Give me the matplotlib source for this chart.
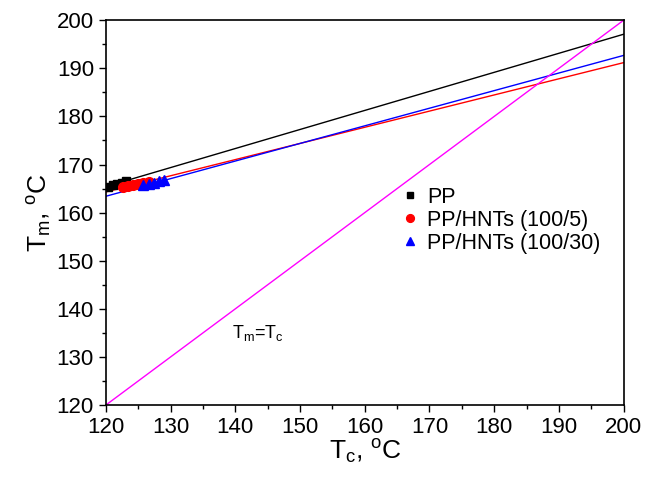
import numpy as np
import matplotlib.pyplot as plt
from matplotlib.ticker import MultipleLocator

plt.rcParams['font.family'] = ['Liberation Sans', 'DejaVu Sans']
plt.rcParams['mathtext.fontset'] = 'custom'
plt.rcParams['mathtext.rm'] = 'Liberation Sans'
plt.rcParams['mathtext.it'] = 'Liberation Sans:italic'

# measured points (Tc, Tm)
pp_tc = [120.4, 121.1, 121.8, 122.5, 123.2]
pp_tm = [165.4, 165.7, 165.9, 166.2, 166.6]
hnt5_tc = [122.6, 123.4, 124.2, 125.0, 125.8, 126.6]
hnt5_tm = [165.3, 165.5, 165.7, 166.0, 166.2, 166.4]
hnt30_tc = [125.8, 126.6, 127.4, 128.2, 129.0]
hnt30_tm = [165.7, 165.9, 166.2, 166.5, 166.8]

# Hoffman-Weeks fits: Tm = slope * Tc + intercept
pp_fit = (0.396, 165.4 - 0.396 * 120)
hnt5_fit = (0.336, 164.3 - 0.336 * 120)
hnt30_fit = (0.366, 163.4 - 0.366 * 120)

tc_line = np.array([120, 200])

fig = plt.figure(figsize=(6.45, 4.8), dpi=100)
ax = fig.add_axes([0.164, 0.156, 0.803, 0.802])

ax.plot(tc_line, pp_fit[0] * tc_line + pp_fit[1], color='black', lw=1)
ax.plot(tc_line, hnt5_fit[0] * tc_line + hnt5_fit[1], color='red', lw=1)
ax.plot(tc_line, hnt30_fit[0] * tc_line + hnt30_fit[1], color='blue', lw=1)
ax.plot(tc_line, tc_line, color='#ff00ff', lw=1)

ax.plot(pp_tc, pp_tm, 's', color='black', ms=6, label='PP')
ax.plot(hnt5_tc, hnt5_tm, 'o', color='red', ms=7, label='PP/HNTs (100/5)')
ax.plot(hnt30_tc, hnt30_tm, '^', color='blue', ms=7, label='PP/HNTs (100/30)')

ax.text(139.5, 134, r'T$_\mathrm{m}$=T$_\mathrm{c}$', fontsize=13)

ax.set_xlim(120, 200)
ax.set_ylim(120, 200)
ax.xaxis.set_major_locator(MultipleLocator(10))
ax.xaxis.set_minor_locator(MultipleLocator(5))
ax.yaxis.set_major_locator(MultipleLocator(10))
ax.yaxis.set_minor_locator(MultipleLocator(5))
ax.tick_params(which='major', direction='out', length=5, width=1, labelsize=16)
ax.tick_params(which='minor', direction='out', length=3, width=1)
for s in ax.spines.values():
    s.set_linewidth(1.2)

ax.set_xlabel(r'T$_\mathrm{c}$, $^\mathrm{o}$C', fontsize=19, labelpad=0)
ax.set_ylabel(r'T$_\mathrm{m}$, $^\mathrm{o}$C', fontsize=19, labelpad=2)

ax.legend(loc='upper left', bbox_to_anchor=(0.545, 0.59), frameon=False,
          fontsize=15.5, handletextpad=0.2, handlelength=1.2,
          labelspacing=0.1, markerscale=0.8, borderaxespad=0)

fig.savefig('out.png', dpi=100)
